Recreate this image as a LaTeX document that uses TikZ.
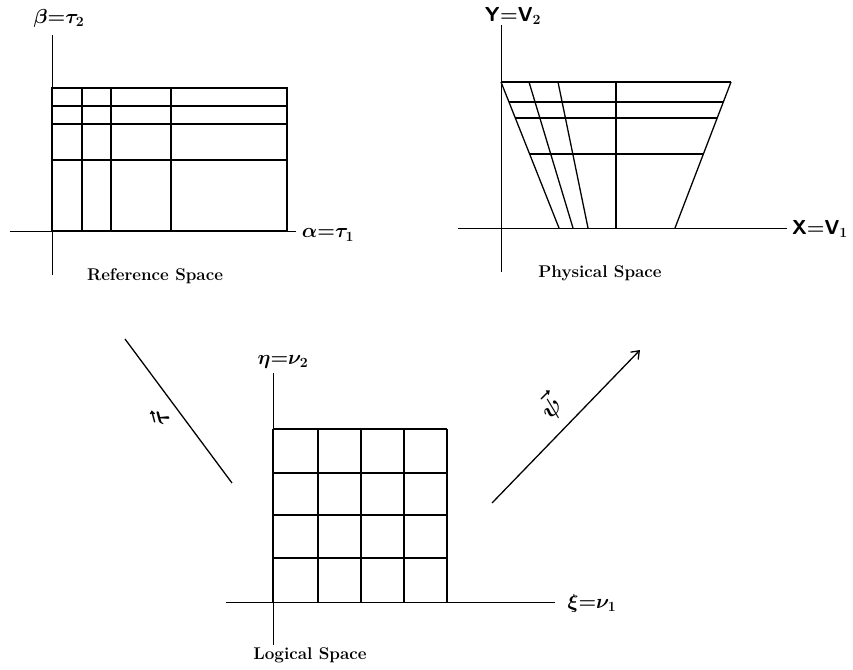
\documentclass[tikz,border=0pt]{standalone}
\usetikzlibrary{calc,arrows.meta}
\begin{document}
\begin{tikzpicture}[x=0.03cm, y=-0.03cm,
  axis/.style={line width=0.7pt},
  gridline/.style={line width=1.1pt},
  caption/.style={font=\fontsize{14.5}{17}\selectfont\bfseries},
  axlabel/.style={font=\fontsize{17}{20}\selectfont\boldmath, inner sep=0pt},
  maplabel/.style={font=\fontsize{22}{24}\selectfont\boldmath, inner sep=0pt}]

     \useasboundingbox (0,0) rectangle (853,669);

     % reference space
     \draw[axis] (52,35) -- (52,275);
     \draw[axis] (10,231) -- (296,231);
     \node[axlabel] (beta) at (59,18) {$\beta{=}\tau_2$};
     \node[axlabel] (alpha) at (328,235) {$\alpha{=}\tau_1$};
     \draw[gridline] (52,88) rectangle (287,231);
     \foreach \x in {82,111,171} \draw[gridline] (\x,88) -- (\x,231);
     \foreach \y in {106,124,160} \draw[gridline] (52,\y) -- (287,\y);
     \node[caption] (refname) at (155,276) {Reference Space};

     % physical space
     \draw[axis] (501,25) -- (501,272);
     \draw[axis] (458,228) -- (787,228);
     \node[axlabel] (ylab) at (513,16) {$\mathsf{Y}{=}\mathsf{V}_2$};
     \node[axlabel] (xlab) at (820,229) {$\mathsf{X}{=}\mathsf{V}_1$};
     \foreach \t/\b [count=\i] in {501/559, 529/573, 558/588, 616/616, 731/675} {
       \coordinate (T\i) at (\t,82);
       \coordinate (B\i) at (\b,228);
       \draw[gridline] (T\i) -- (B\i);
     }
     \draw[gridline] (T1) -- (T5);
     \foreach \f in {0.137,0.247,0.493}
       \draw[gridline] ($(T1)!\f!(B1)$) -- ($(T5)!\f!(B5)$);
     \node[caption] (physname) at (600,273) {Physical Space};

     % logical space
     \draw[axis] (273,373) -- (273,645);
     \draw[axis] (226,602) -- (555,602);
     \node[axlabel] (eta) at (283,362) {$\eta{=}\nu_2$};
     \node[axlabel] (xi) at (592,603) {$\xi{=}\nu_1$};
     \foreach \x in {273,318,361,404,447} \draw[gridline] (\x,429) -- (\x,602);
     \foreach \y in {429,473,515,558} \draw[gridline] (273,\y) -- (447,\y);
     \node[caption] (logname) at (310,655) {Logical Space};

     % mappings
     \coordinate (tauA) at (125,339);
     \coordinate (tauB) at (232,483);
     \draw[gridline] (tauA) -- (tauB);
     \node[maplabel, rotate=105] (taumap) at (160,418) {$\vec{\tau}$};

     \coordinate (psiA) at (492,503);
     \coordinate (psiB) at (640,350);
     \draw[gridline, -{Straight Barb[length=6pt,width=9pt,line width=1.1pt]}] (psiA) -- (psiB);
     \node[maplabel, rotate=45] (psimap) at (550,407) {$\vec{\psi}$};

\end{tikzpicture}
\end{document}
